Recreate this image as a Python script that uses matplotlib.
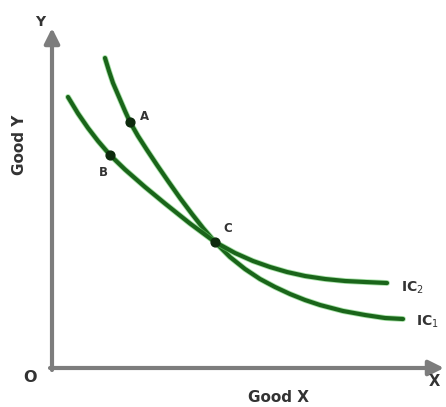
import numpy as np
import matplotlib.pyplot as plt

ic1_x = [53, 57, 61, 67, 73, 78, 86, 95, 105, 116, 128, 140, 151, 163,
         178, 193, 208, 223, 238, 253, 268, 291, 313, 333, 351]
ic1_y = [310, 297, 285, 271, 257, 246, 232, 218, 203, 187, 170, 154, 140, 126,
         111, 99, 89, 81, 74, 68, 63, 57, 53, 50, 49]
ic2_x = [16, 26, 36, 46, 58, 73, 93, 113, 138, 163,
         183, 201, 218, 235, 253, 273, 293, 313, 335]
ic2_y = [271, 254.5, 240, 227, 213, 198.5, 181, 164.5, 144.5, 126,
         115, 107, 101, 96, 92, 89, 87, 86, 85]

points = ["A", "B", "C"]
point_x = [78, 58, 163]
point_y = [246, 213, 126]

fig = plt.figure(figsize=(4.46, 4.07), dpi=100)
ax = fig.add_axes([0, 0, 1, 1])
ax.set_xlim(-52, 394)
ax.set_ylim(-39, 368)
ax.axis('off')

axis_col = '#7d7d7d'
ax.annotate('', xy=(0, 340), xytext=(0, -2),
            arrowprops=dict(arrowstyle='-|>,head_length=0.9,head_width=0.45',
                            color=axis_col, lw=3, shrinkA=0, shrinkB=0))
ax.annotate('', xy=(392, 0), xytext=(-2, 0),
            arrowprops=dict(arrowstyle='-|>,head_length=0.9,head_width=0.45',
                            color=axis_col, lw=3, shrinkA=0, shrinkB=0))

green = '#1a651a'
for xs, ys in [(ic1_x, ic1_y), (ic2_x, ic2_y)]:
    ax.plot(xs, ys, color='#6fcf6f', lw=4.2, solid_capstyle='round',
            solid_joinstyle='round', alpha=0.6)
    ax.plot(xs, ys, color=green, lw=3, solid_capstyle='round',
            solid_joinstyle='round')
ax.scatter(point_x, point_y, s=40, color='#0d2a0d', zorder=5)

txt = dict(color='#333333', fontweight='bold', family='DejaVu Sans')
offsets = {"A": (14, 6), "B": (-7, -17), "C": (13, 13)}
for name, px, py in zip(points, point_x, point_y):
    dx, dy = offsets[name]
    ax.text(px + dx, py + dy, name, fontsize=8.5, ha='center', va='center', **txt)

ax.text(349, 80, 'IC$_2$', fontsize=10, ha='left', va='center', **txt)
ax.text(364, 46, 'IC$_1$', fontsize=10, ha='left', va='center', **txt)

ax.text(-12, 346, 'Y', fontsize=10, ha='center', va='center', **txt)
ax.text(382, -13, 'X', fontsize=10.5, ha='center', va='center', **txt)
ax.text(-22, -10, 'O', fontsize=11.5, ha='center', va='center', **txt)
ax.text(226, -30, 'Good X', fontsize=11, ha='center', va='center', **txt)
ax.text(-33, 223, 'Good Y', fontsize=11, ha='center', va='center', rotation=90, **txt)

fig.savefig('out.png', dpi=100)
